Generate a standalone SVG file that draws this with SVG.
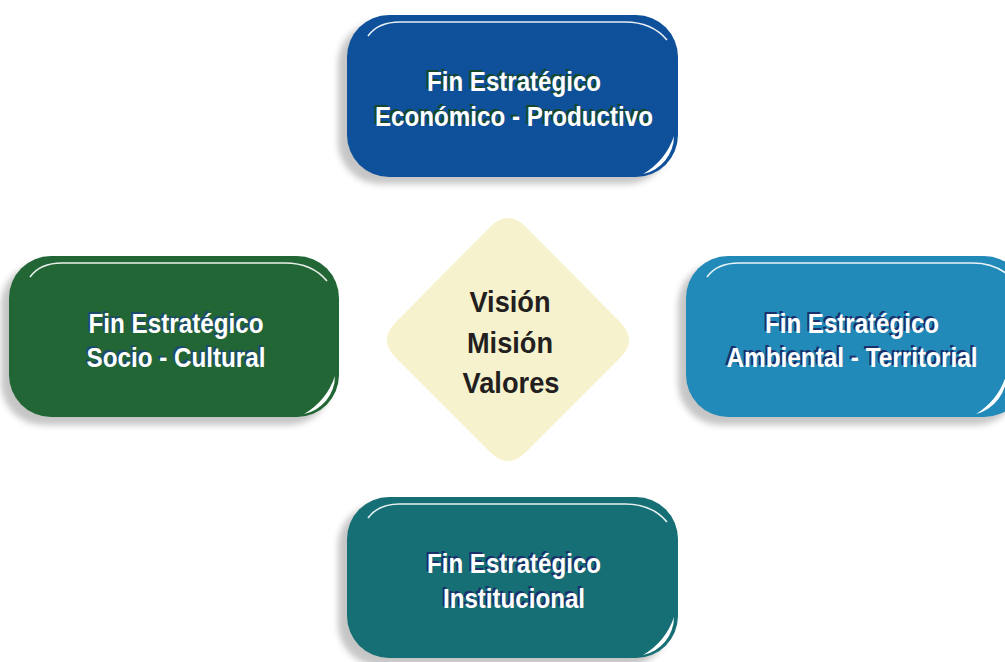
<svg xmlns="http://www.w3.org/2000/svg" width="1005" height="662" viewBox="0 0 1005 662">
<defs>
<filter id="sh" x="-10%" y="-10%" width="120%" height="130%"><feGaussianBlur stdDeviation="3"/></filter>
<style>
.shadow{fill:#a0a0a0;opacity:.6;filter:url(#sh)}
.hl{fill:none;stroke:#fff;stroke-width:1.6;opacity:.9}
.cr{fill:#fff}
.t{font-family:"Liberation Sans",Arial,sans-serif;font-weight:bold;font-size:27px;text-anchor:middle}
.w{fill:#fff}
.g{fill:#17472a}
.b{fill:#1b2f6a}
.n{fill:#1c4a6a}
.c{font-family:"Liberation Sans",Arial,sans-serif;font-weight:bold;font-size:30px;text-anchor:middle;fill:#231f20}
</style>
</defs>
<rect width="1005" height="662" fill="#fff"/>
<g id="connectors"></g>
<g id="node-top">
<rect class="shadow" x="338" y="22" width="331" height="162" rx="42"/>
<rect x="347" y="15" width="331" height="162" rx="42" fill="#0F509A"/>
<path class="hl" d="M368 36 Q378 22 400 22 L625 22 Q652 22 667 40"/>
<path class="cr" d="M674 136 A39 39 0 0 1 643 174 A70 70 0 0 0 674 136 Z"/>
<text class="t g" x="512" y="89" textLength="174" lengthAdjust="spacingAndGlyphs">Fin Estratégico</text>
<text class="t g" x="512" y="124" textLength="278" lengthAdjust="spacingAndGlyphs">Económico - Productivo</text>
<text class="t w" x="514" y="91" textLength="174" lengthAdjust="spacingAndGlyphs">Fin Estratégico</text>
<text class="t w" x="514" y="126" textLength="278" lengthAdjust="spacingAndGlyphs">Económico - Productivo</text>
</g>
<g id="node-left">
<rect class="shadow" x="1" y="263" width="330" height="162" rx="42"/>
<rect x="9" y="256" width="330" height="161" rx="42" fill="#236636"/>
<path class="hl" d="M30 277 Q40 263 62 263 L285 263 Q312 263 327 281"/>
<path class="cr" d="M335 376 A39 39 0 0 1 304 414 A70 70 0 0 0 335 376 Z"/>
<text class="t n" x="174" y="331" textLength="175" lengthAdjust="spacingAndGlyphs">Fin Estratégico</text>
<text class="t n" x="174" y="365" textLength="179" lengthAdjust="spacingAndGlyphs">Socio - Cultural</text>
<text class="t w" x="176" y="333" textLength="175" lengthAdjust="spacingAndGlyphs">Fin Estratégico</text>
<text class="t w" x="176" y="367" textLength="179" lengthAdjust="spacingAndGlyphs">Socio - Cultural</text>
</g>
<g id="node-right">
<rect class="shadow" x="678" y="263" width="340" height="162" rx="42"/>
<rect x="686" y="256" width="340" height="161" rx="42" fill="#228AB8"/>
<path class="hl" d="M707 277 Q717 263 739 263 L972 263 Q999 263 1014 281"/>
<path class="cr" d="M1007 372 A42 42 0 0 1 976 414 A70 70 0 0 0 1007 372 Z"/>
<text class="t b" x="850" y="331" textLength="174" lengthAdjust="spacingAndGlyphs">Fin Estratégico</text>
<text class="t b" x="850" y="365" textLength="251" lengthAdjust="spacingAndGlyphs">Ambiental - Territorial</text>
<text class="t w" x="852" y="333" textLength="174" lengthAdjust="spacingAndGlyphs">Fin Estratégico</text>
<text class="t w" x="852" y="367" textLength="251" lengthAdjust="spacingAndGlyphs">Ambiental - Territorial</text>
</g>
<g id="node-bottom">
<rect class="shadow" x="338" y="504" width="331" height="162" rx="42"/>
<rect x="347" y="497" width="331" height="161" rx="42" fill="#166F74"/>
<path class="hl" d="M368 518 Q378 504 400 504 L625 504 Q652 504 667 522"/>
<path class="cr" d="M674 617 A39 39 0 0 1 643 655 A70 70 0 0 0 674 617 Z"/>
<text class="t b" x="512" y="571" textLength="174" lengthAdjust="spacingAndGlyphs">Fin Estratégico</text>
<text class="t b" x="512" y="606" textLength="142" lengthAdjust="spacingAndGlyphs">Institucional</text>
<text class="t w" x="514" y="573" textLength="174" lengthAdjust="spacingAndGlyphs">Fin Estratégico</text>
<text class="t w" x="514" y="608" textLength="142" lengthAdjust="spacingAndGlyphs">Institucional</text>
</g>
<g id="node-center">
<path d="M490 227 Q508 209 526 227 L620 322 Q638 340 620 358 L526 452 Q508 470 490 452 L396 358 Q378 340 396 322 Z" fill="#F6F2CD"/>
<text class="c" x="510" y="312" textLength="81" lengthAdjust="spacingAndGlyphs">Visión</text>
<text class="c" x="510" y="353" textLength="86" lengthAdjust="spacingAndGlyphs">Misión</text>
<text class="c" x="511" y="393" textLength="97" lengthAdjust="spacingAndGlyphs">Valores</text>
</g>
</svg>
